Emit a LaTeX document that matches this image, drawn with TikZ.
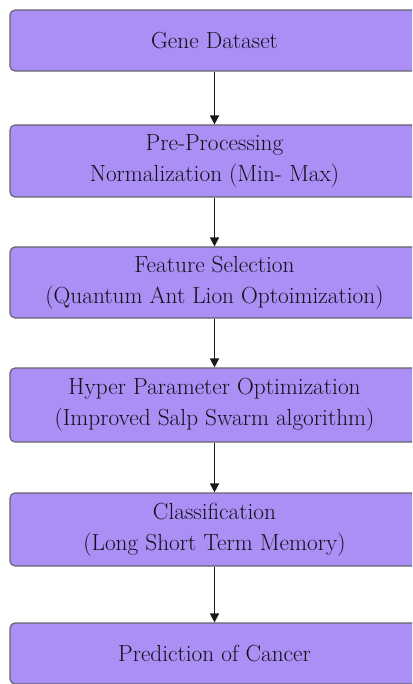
\documentclass[tikz,border=0pt]{standalone}
\usetikzlibrary{arrows.meta}
\definecolor{boxfill}{RGB}{171,143,245}
\definecolor{boxline}{RGB}{100,100,110}
\definecolor{txt}{RGB}{20,15,25}
\begin{document}
\begin{tikzpicture}[x=1pt,y=-1pt,
  stage/.style={draw=boxline, line width=1.2pt, fill=boxfill, rounded corners=5pt,
    minimum width=409pt, align=center, inner sep=0pt, text=txt,
    font=\rmfamily\fontsize{23.3}{31}\selectfont},
  flow/.style={draw=black!90, line width=1.5pt, -{Triangle[length=9pt,width=9pt]}}]
\useasboundingbox (0,0) rectangle (412,684);
\clip (0,0) rectangle (412,684);
\node[stage, minimum height=61pt] (a) at (214.5,40.5) {Gene Dataset};
\node[stage, minimum height=72pt] (b) at (214.5,161) {Pre-Processing\\Normalization (Min- Max)};
\node[stage, minimum height=71pt] (c) at (214.5,282.5) {Feature Selection\\(Quantum Ant Lion Optoimization)};
\node[stage, minimum height=74pt] (d) at (214.5,405) {Hyper Parameter Optimization\\(Improved Salp Swarm algorithm)};
\node[stage, minimum height=73pt] (e) at (214.5,529.5) {Classification\\(Long Short Term Memory)};
\node[stage, minimum height=61pt] (f) at (214.5,653.5) {Prediction of Cancer};
\draw[flow] (a) -- (b);
\draw[flow] (b) -- (c);
\draw[flow] (c) -- (d);
\draw[flow] (d) -- (e);
\draw[flow] (e) -- (f);
\end{tikzpicture}
\end{document}
